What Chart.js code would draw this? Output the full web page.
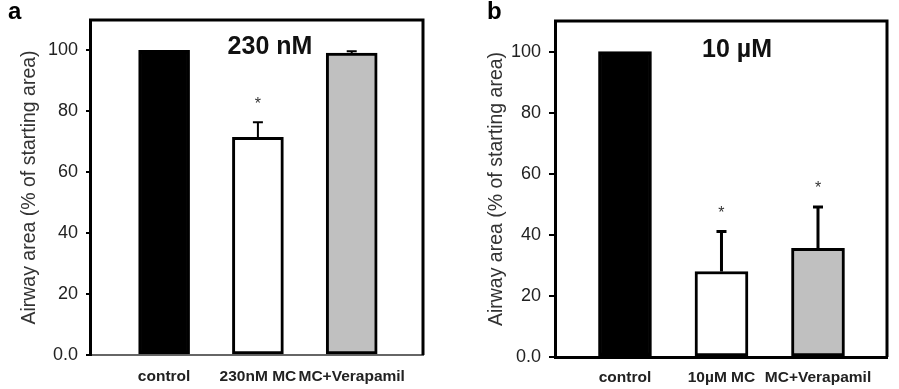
<!DOCTYPE html>
<html lang="en">
<head>
  <meta charset="UTF-8">
  <title>Airway area</title>
  <script src="https://cdn.jsdelivr.net/npm/chart.js"></script>
  <style>
    body {
      margin: 0;
      background: #ffffff;
      font-family: 'Liberation Sans', Arial, sans-serif;
    }
    .wrap {
      position: relative;
      width: 899px;
      height: 389px;
      overflow: hidden;
    }
    canvas {
      position: absolute;
      top: 0;
    }
    .letter {
      position: absolute;
      font-weight: bold;
      font-size: 24px;
      color: #000;
    }
    .conc {
      position: absolute;
      font-weight: bold;
      font-size: 25px;
      color: #111;
      transform: translateX(-50%);
      white-space: nowrap;
    }
  </style>
</head>
<body>

<div class="wrap">
  <canvas id="panelA" width="449" height="389" style="left:0"></canvas>
  <canvas id="panelB" width="449" height="389" style="left:450px"></canvas>
  <div class="letter" style="left:8px; top:-3px">a</div>
  <div class="letter" style="left:487px; top:-3px">b</div>
  <div class="conc" style="left:270px; top:31px">230 nM</div>
  <div class="conc" style="left:737px; top:34px">10 µM</div>
</div>

<script>
  // panel a : 230 nM
  const categoriesA = ['control', '230nM MC', 'MC+Verapamil'];
  const valuesA = [100, 71.5, 99.1];
  const errorsA = [0, 4.9, 0.6];
  const starsA = [false, true, false];

  // panel b : 10 µM
  const categoriesB = ['control', '10µM MC', 'MC+Verapamil'];
  const valuesB = [100, 28, 35.6];
  const errorsB = [0, 13.1, 13.5];
  const starsB = [false, true, true];

  const yTicks = [0, 20, 40, 60, 80, 100];
  const barColors = ['#000000', '#ffffff', '#c0c0c0'];
  const yTitle = 'Airway area (% of starting area)';

  // upper error bars, significance stars and the closed frame
  const extrasPlugin = {
    id: 'extras',
    afterDatasetsDraw(chart, args, opts) {
      const ctx = chart.ctx;
      const xs = chart.scales.x;
      const ys = chart.scales.y;
      const a = chart.chartArea;
      ctx.save();
      opts.values.forEach((v, i) => {
        const px = xs.getPixelForValue(i + 1);
        const top = ys.getPixelForValue(v);
        const errTop = ys.getPixelForValue(v + opts.errors[i]);
        if (opts.errors[i] > 0) {
          ctx.strokeStyle = '#000';
          ctx.lineWidth = opts.errWidth;
          ctx.beginPath();
          ctx.moveTo(px, top);
          ctx.lineTo(px, errTop);
          ctx.moveTo(px - opts.cap, errTop);
          ctx.lineTo(px + opts.cap, errTop);
          ctx.stroke();
        }
        if (opts.stars[i]) {
          ctx.fillStyle = '#333';
          ctx.font = '16px "Liberation Sans", Arial, sans-serif';
          ctx.textAlign = 'center';
          ctx.textBaseline = 'middle';
          ctx.fillText('*', px, errTop - 18);
        }
      });
      // top and right sides of the box
      ctx.strokeStyle = '#000';
      ctx.lineWidth = 3;
      ctx.beginPath();
      ctx.moveTo(a.left - 1, a.top);
      ctx.lineTo(a.right, a.top);
      ctx.lineTo(a.right, a.bottom);
      ctx.stroke();
      ctx.restore();
    }
  };

  function makePanel(id, cats, vals, errs, stars, o) {
    const ctx = document.getElementById(id).getContext('2d');
    return new Chart(ctx, {
      type: 'bar',
      data: {
        datasets: [{
          data: vals.map((v, i) => ({ x: i + 1, y: v })),
          backgroundColor: barColors,
          borderColor: '#000',
          borderWidth: 3,
          borderSkipped: false,
          barThickness: o.barWidth
        }]
      },
      options: {
        responsive: false,
        animation: false,
        layout: { padding: { top: o.top, right: o.right, left: 0, bottom: 0 } },
        plugins: {
          legend: { display: false },
          tooltip: { enabled: false },
          extras: { values: vals, errors: errs, stars: stars, errWidth: o.errWidth, cap: o.cap }
        },
        scales: {
          x: {
            type: 'linear',
            offset: false,
            min: o.xMin,
            max: o.xMax,
            afterBuildTicks: s => { s.ticks = cats.map((c, i) => ({ value: i + 1 })); },
            afterFit: s => { s.height = o.xHeight; },
            grid: { display: false, drawTicks: false, offset: false },
            border: { display: true, color: o.bottomColor, width: o.bottomWidth },
            ticks: {
              autoSkip: false,
              maxRotation: 0,
              padding: o.xPad,
              color: '#222',
              font: { family: '"Liberation Sans", Arial, sans-serif', size: 15.5, weight: 'bold' },
              callback: v => cats[v - 1]
            }
          },
          y: {
            min: 0,
            max: 110,
            afterBuildTicks: s => { s.ticks = yTicks.map(v => ({ value: v })); },
            afterFit: s => { s.width = o.yWidth; },
            grid: { drawOnChartArea: false, drawTicks: true, tickLength: o.tickLen, color: '#000', lineWidth: 2 },
            border: { display: true, color: '#000', width: 3 },
            ticks: {
              padding: 8,
              color: '#222',
              font: { family: '"Liberation Sans", Arial, sans-serif', size: 18 },
              callback: v => v === 0 ? '0.0' : String(v)
            },
            title: {
              display: true,
              text: yTitle,
              color: '#333',
              font: { family: '"Liberation Sans", Arial, sans-serif', size: 19.5 },
              padding: { top: o.titlePad, bottom: 0 }
            }
          }
        }
      },
      plugins: [extrasPlugin]
    });
  }

  makePanel('panelA', categoriesA, valuesA, errorsA, starsA, {
    top: 20, right: 26, yWidth: 90, xHeight: 34, xMin: 0.21, xMax: 3.76,
    barWidth: 51, errWidth: 2, cap: 5, tickLen: 4, titlePad: 18, xPad: 12,
    bottomColor: '#666', bottomWidth: 2
  });

  makePanel('panelB', categoriesB, valuesB, errorsB, starsB, {
    top: 21, right: 12, yWidth: 105, xHeight: 32, xMin: 0.275, xMax: 3.715,
    barWidth: 53, errWidth: 3, cap: 5, tickLen: 6, titlePad: 35, xPad: 11,
    bottomColor: '#000', bottomWidth: 3
  });
</script>

</body>
</html>
